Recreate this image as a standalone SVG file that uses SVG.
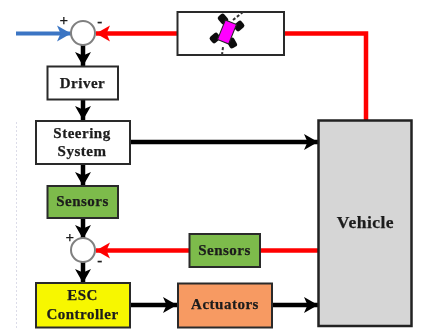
<svg xmlns="http://www.w3.org/2000/svg" width="422" height="329" viewBox="0 0 422 329">
<defs>
<marker id="ak" markerUnits="userSpaceOnUse" markerWidth="18" markerHeight="18" refX="15" refY="9" orient="auto"><path d="M1 1L15 9L1 17L4.500 9Z" fill="#000"/></marker>
<marker id="ar" markerUnits="userSpaceOnUse" markerWidth="18" markerHeight="18" refX="15" refY="9" orient="auto"><path d="M1 1L15 9L1 17L4.500 9Z" fill="#f00"/></marker>
<marker id="ab" markerUnits="userSpaceOnUse" markerWidth="18" markerHeight="18" refX="15" refY="9" orient="auto"><path d="M1 1L15 9L1 17L4.500 9Z" fill="#3a75c4"/></marker>
<filter id="soft" x="-5%" y="-5%" width="110%" height="110%"><feGaussianBlur stdDeviation="0.5"/></filter>
</defs>
<style>
.box{stroke:#2b2b2b;stroke-width:2}
.sum{fill:#fff;stroke:#808080;stroke-width:2}
.k{fill:none;stroke:#000;stroke-width:4.500}
.r{fill:none;stroke:#f00;stroke-width:4.500}
.b{fill:none;stroke:#3a75c4;stroke-width:4}
text{font-family:"Liberation Serif","DejaVu Serif",serif;font-weight:bold;font-size:15px;fill:#1c1c1c;text-anchor:middle;letter-spacing:.5px;stroke:#1c1c1c;stroke-width:.25px}
.sign{font-size:15px}
</style>
<rect width="422" height="329" fill="#fff"/>
<g filter="url(#soft)">
<path d="M16.500 122V329" fill="none" stroke="#dcdce8" stroke-width="1" stroke-dasharray="2 2"/>
<g id="connectors">
<path class="b" d="M16 33.500H71" marker-end="url(#ab)"/>
<path class="r" d="M177 33.500H96" marker-end="url(#ar)"/>
<path class="r" d="M284 33.500H366V120"/>
<path class="k" d="M83 45V66" marker-end="url(#ak)"/>
<path class="k" d="M83 99V120" marker-end="url(#ak)"/>
<path class="k" d="M83 164V186" marker-end="url(#ak)"/>
<path class="k" d="M83 218V239" marker-end="url(#ak)"/>
<path class="k" d="M83 262V283" marker-end="url(#ak)"/>
<path class="k" d="M130 142H318" marker-end="url(#ak)"/>
<path class="r" d="M318 250.500H96" marker-end="url(#ar)"/>
<path class="k" d="M130 305H177" marker-end="url(#ak)"/>
<path class="k" d="M272 305H318" marker-end="url(#ak)"/>
</g>
<g id="sum1"><circle class="sum" cx="83" cy="33" r="12"/><text class="sign" x="64" y="25">+</text><text class="sign" x="100" y="26">-</text></g>
<g id="sum2"><circle class="sum" cx="83" cy="250" r="12"/><text class="sign" x="70" y="242">+</text><text class="sign" x="100" y="265">-</text></g>
<g id="car">
<rect class="box" x="177.500" y="12" width="106.500" height="43" fill="#fff"/>
<path d="M222 55L223 47M233 20L243 12" fill="none" stroke="#333" stroke-width="2" stroke-dasharray="3 2"/>
<g fill="#111">
<rect x="219" y="14" width="8" height="10" rx="2.500" transform="rotate(-40 223 19)"/>
<rect x="235" y="21" width="8" height="10" rx="2.500" transform="rotate(50 239 26)"/>
<rect x="211" y="33" width="8" height="10" rx="2.500" transform="rotate(50 215 38)"/>
<rect x="228" y="38" width="8" height="10" rx="2.500" transform="rotate(-30 232 43)"/>
</g>
<rect x="221" y="21.500" width="12" height="21" fill="#f0f" stroke="#222" stroke-width="1" transform="rotate(22 227 32)"/>
</g>
<g id="driver"><rect class="box" x="47.500" y="66.500" width="70.500" height="33" fill="#fff"/><text x="82.500" y="88">Driver</text></g>
<g id="steering"><rect class="box" x="36" y="121" width="94" height="43" fill="#fff"/><text x="82" y="138">Steering</text><text x="82" y="156">System</text></g>
<g id="sensors1"><rect class="box" x="47.500" y="186" width="70.500" height="32" fill="#7dbb4b"/><text x="82.500" y="206">Sensors</text></g>
<g id="esc"><rect class="box" x="36" y="283" width="94" height="44.500" fill="#f7f700"/><text x="82.500" y="300">ESC</text><text x="82.500" y="319">Controller</text></g>
<g id="actuators"><rect class="box" x="178" y="283.500" width="94" height="44" fill="#f79a62"/><text x="225" y="309">Actuators</text></g>
<g id="sensors2"><rect class="box" x="189.500" y="234" width="70.500" height="33" fill="#7dbb4b"/><text x="224.500" y="255">Sensors</text></g>
<g id="vehicle"><rect x="318.500" y="120.500" width="93" height="205.500" fill="#d6d6d6" stroke="#222" stroke-width="2.500"/><text x="365.500" y="228" style="font-size:17.500px">Vehicle</text></g>
</g>
</svg>
